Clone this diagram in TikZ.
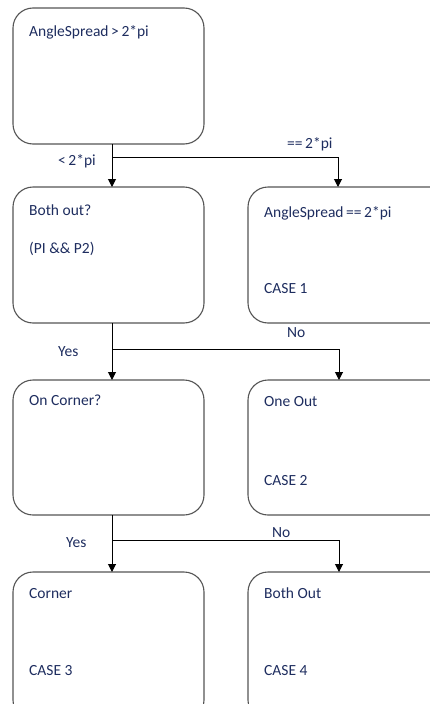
\documentclass[tikz,border=0pt]{standalone}
\usepackage{fontspec}
\setmainfont{Carlito}
\usetikzlibrary{arrows.meta}
\definecolor{txt}{RGB}{30,45,95}
\definecolor{boxline}{RGB}{85,85,85}
\tikzset{
  box/.style={draw=boxline, line width=1.1pt, rounded corners=20pt, fill=white},
  lbl/.style={anchor=base west, inner sep=0pt, text=txt, font=\fontsize{15.5}{18}\selectfont},
  conn/.style={draw=black, line width=1pt},
  arr/.style={conn, -{Triangle[width=8pt,length=8pt]}}
}
\begin{document}
\begin{tikzpicture}[x=1pt,y=-1pt]
\useasboundingbox (0,0) rectangle (430,704);
\clip (0,0) rectangle (430,704);
% boxes
\draw[box] (13,8) rectangle (204,144);
\draw[box] (13,187) rectangle (204,323);
\draw[box] (248,187) rectangle (450,323);
\draw[box] (13,380) rectangle (204,515);
\draw[box] (248,380) rectangle (450,515);
\draw[box] (13,572) rectangle (204,720);
\draw[box] (248,572) rectangle (450,720);
% named anchor coordinates
\coordinate (a) at (112,144);
\coordinate (bt) at (112,187);
\coordinate (ja) at (112,157);
\coordinate (r1t) at (338,187);
\coordinate (bb) at (112,323);
\coordinate (ct) at (112,380);
\coordinate (jb) at (112,349);
\coordinate (r2t) at (339,380);
\coordinate (cb) at (112,515);
\coordinate (dt) at (112,572);
\coordinate (jc) at (112,540);
\coordinate (r3t) at (339,572);
% connectors
\draw[arr] (a) -- (bt);
\draw[arr] (ja) -| (r1t);
\draw[arr] (bb) -- (ct);
\draw[arr] (jb) -| (r2t);
\draw[arr] (cb) -- (dt);
\draw[arr] (jc) -| (r3t);
% texts
\node[lbl] (t1) at (29,36) {AngleSpread\,>\,2*pi};
\node[lbl] (t2) at (58,165) {<\,2*pi};
\node[lbl] (t3) at (287,148) {==\,2*pi};
\node[lbl] (t4) at (29,215) {Both out?};
\node[lbl] (t5) at (29,253) {(PI \&\& P2)};
\node[lbl] (t6) at (264,217) {AngleSpread\,==\,2*pi};
\node[lbl] (t7) at (264,293) {CASE 1};
\node[lbl] (t8) at (287,337) {No};
\node[lbl] (t9) at (58,356) {Yes};
\node[lbl] (t10) at (29,405) {On Corner?};
\node[lbl] (t11) at (264,406) {One Out};
\node[lbl] (t12) at (264,485) {CASE 2};
\node[lbl] (t13) at (272,537) {No};
\node[lbl] (t14) at (66,547) {Yes};
\node[lbl] (t15) at (29,598) {Corner};
\node[lbl] (t16) at (264,598) {Both Out};
\node[lbl] (t17) at (29,675) {CASE 3};
\node[lbl] (t18) at (264,675) {CASE 4};
\end{tikzpicture}
\end{document}
